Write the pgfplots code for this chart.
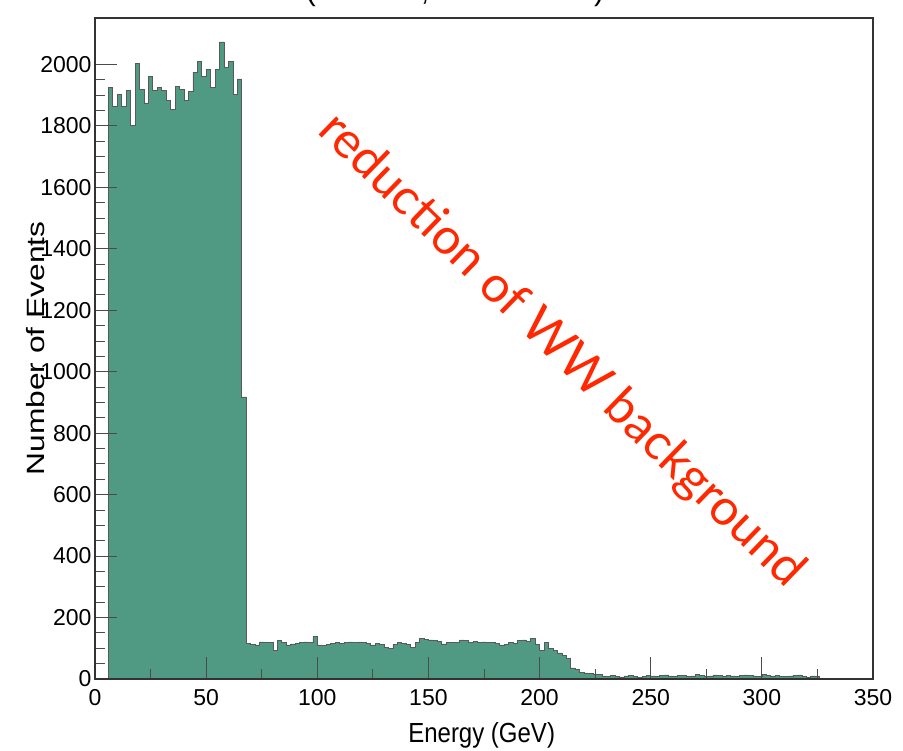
\documentclass[border=0pt]{standalone}
\usepackage{pgfplots}
\pgfplotsset{compat=1.18}
\usepackage{graphicx}
\usepackage{fontspec}
\setmainfont{Liberation Sans}
\newfontfamily\redfont{Lato}
\definecolor{histfill}{RGB}{80,153,131}
\definecolor{redtxt}{RGB}{255,40,0}

\pgfplotstableread{
x y
6 1924
8 1864
10 1902
12 1862
14 1915
16 1801
18 2002
20 1919
22 1875
24 1960
26 1915
28 1924
30 1915
32 1882
34 1853
36 1929
38 1919
40 1882
42 1913
44 1975
46 2011
48 1962
50 1984
52 1924
54 1984
56 2073
58 1990
60 2011
62 1902
64 1953
66 918
68 116
70 113
72 111
74 121
76 120
78 118
80 94
82 125
84 118
86 111
88 114
90 116
92 119
94 121
96 120
98 138
100 111
102 110
104 112
106 115
108 120
110 116
112 118
114 121
116 119
118 121
120 118
122 116
124 111
126 116
128 113
130 104
132 100
134 113
136 118
138 115
140 113
142 102
144 120
146 132
148 130
150 127
152 125
154 122
156 114
158 118
160 118
162 120
164 127
166 125
168 120
170 122
172 119
174 121
176 118
178 118
180 116
182 111
184 112
186 118
188 115
190 125
192 127
194 123
196 132
198 112
200 94
202 120
204 100
206 94
208 85
210 78
212 68
214 36
216 30
218 22
220 20
222 18
224 16
226 14
228 10
230 8
232 12
234 9
236 7
238 10
240 11
242 8
244 6
246 9
248 12
250 10
252 9
254 11
256 13
258 10
260 8
262 12
264 11
266 9
268 10
270 14
272 12
274 9
276 10
278 13
280 11
282 8
284 12
286 10
288 9
290 11
292 13
294 12
296 10
298 9
300 14
302 11
304 10
306 12
308 9
310 8
312 10
314 12
316 13
318 9
320 7
322 10
324 8
326 8
}\histdata

\begin{document}
\begin{tikzpicture}[x=1pt,y=1pt]
\begin{axis}[
  at={(95pt,72pt)}, anchor=south west,
  scale only axis, width=778pt, height=661pt,
  xmin=0, xmax=350, ymin=0, ymax=2151,
  xtick={0,50,...,350}, ytick={0,200,...,2000},
  minor x tick num=1, minor y tick num=3,
  tick align=inside, tick pos=left,
  major tick length=22pt, minor tick length=10pt,
  axis on top,
  axis line style={black!80, line width=1.2pt},
  every tick/.style={black!70, line width=0.8pt},
  /pgf/number format/assume math mode=true,
  /pgf/number format/set thousands separator={},
  tick label style={font=\fontsize{23}{27}\selectfont},
  xticklabel style={yshift=-7pt},
  xlabel={\scalebox{1}[1.15]{Energy (GeV)}},
  ylabel={\scalebox{1.27}[1]{Number of Events}},
  xlabel style={at={(axis description cs:0.497,-0.0847)}, anchor=center, font=\fontsize{24}{28}\selectfont},
  ylabel style={at={(axis description cs:-0.077,0.500)}, anchor=center, font=\fontsize{25}{29}\selectfont},
]
\addplot[const plot, fill=histfill, draw=black!65, line width=0.6pt] table[x=x,y=y] {\histdata} \closedcycle;
\end{axis}
\node[anchor=base, font=\fontsize{30}{34}\selectfont] at (455,750) {(\hspace{105pt},\hspace{165pt})};
\node[rotate=-44.2, text=redtxt, font=\redfont\fontsize{50}{56}\selectfont] at (561,400) {reduction of WW background};
\pgfresetboundingbox
\useasboundingbox (0,0) rectangle (903,751);
\end{tikzpicture}
\end{document}
